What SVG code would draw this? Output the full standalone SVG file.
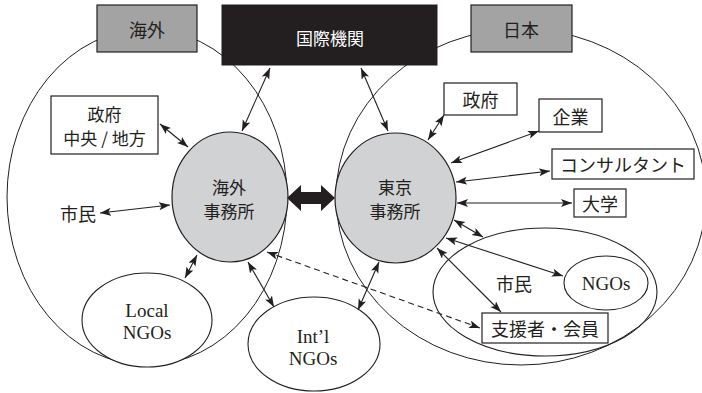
<svg xmlns="http://www.w3.org/2000/svg" width="702" height="393" viewBox="0 0 702 393">
<style>
.big{fill:none;stroke:#231f20;stroke-width:1}
.lbl{fill:#a3a3a3;stroke:#231f20;stroke-width:1.2}
.box{fill:#fff;stroke:#231f20;stroke-width:1.2}
.off{fill:#d1d2d4;stroke:#231f20;stroke-width:1.2}
.ell{fill:#fff;stroke:#231f20;stroke-width:1.1}
.ellnf{fill:none;stroke:#231f20;stroke-width:1.1}
.t{font-family:"Noto Sans CJK JP","Noto Sans",sans-serif;font-size:18px;fill:#231f20;text-anchor:middle;dominant-baseline:central}
.o{font-size:17px}
.s{font-family:"Liberation Serif",serif;font-size:19px;fill:#231f20;text-anchor:middle;dominant-baseline:central}
.c line{stroke:#231f20;stroke-width:1.1;marker-start:url(#ah);marker-end:url(#ah)}
.c line.d{stroke-dasharray:6 4}
</style>
<defs>
<marker id="ah" markerUnits="userSpaceOnUse" markerWidth="12" markerHeight="9" refX="11" refY="4" orient="auto-start-reverse">
<path d="M0,0 L11,4 L0,8 L2.5,4 z" fill="#231f20"/>
</marker>
</defs>

<g id="region-overseas"><ellipse class="big" cx="147" cy="197" rx="140" ry="168"/></g>
<g id="region-japan"><ellipse class="big" cx="521" cy="197" rx="185" ry="168"/></g>

<g id="label-overseas"><rect class="lbl" x="97" y="5" width="100" height="47"/><text class="t" x="147" y="29">海外</text></g>
<g id="intl-org"><rect x="222" y="5" width="215" height="60" fill="#231f20" stroke="#231f20"/><text class="t" x="330" y="37" style="fill:#fff;font-size:17px">国際機関</text></g>
<g id="label-japan"><rect class="lbl" x="471" y="5" width="101" height="47"/><text class="t" x="521" y="29">日本</text></g>

<g id="gov-overseas"><rect class="box" x="51" y="96" width="107" height="58"/><text class="t o" x="104.5" y="113.5">政府</text><text class="t o" x="104.5" y="137.5">中央 / 地方</text></g>
<g id="citizens-overseas"><text class="t" x="78" y="213">市民</text></g>
<g id="local-ngos"><ellipse class="ell" cx="147" cy="320" rx="65" ry="47"/><text class="s" x="147" y="310">Local</text><text class="s" x="147" y="332">NGOs</text></g>
<g id="intl-ngos"><ellipse class="ell" cx="314" cy="344" rx="66" ry="47"/><text class="s" x="313" y="336">Int’l</text><text class="s" x="313" y="358">NGOs</text></g>

<g id="citizens-japan"><ellipse class="ellnf" cx="545" cy="292" rx="112" ry="64"/><text class="t" x="514" y="283">市民</text></g>
<g id="ngos-japan"><ellipse class="ell" cx="606" cy="283" rx="42" ry="27"/><text class="s" x="606" y="283">NGOs</text></g>
<g id="supporters"><rect class="box" x="482" y="313" width="126" height="30"/><text class="t" x="545" y="328">支援者・会員</text></g>
<g id="gov-japan"><rect class="box" x="444" y="83" width="73" height="32"/><text class="t" x="480.5" y="99">政府</text></g>
<g id="company"><rect class="box" x="539" y="99" width="63" height="33"/><text class="t" x="570.5" y="115.5">企業</text></g>
<g id="consultant"><rect class="box" x="552" y="149" width="142" height="30"/><text class="t" x="623" y="164">コンサルタント</text></g>
<g id="university"><rect class="box" x="574" y="189" width="52" height="28"/><text class="t" x="600" y="203">大学</text></g>

<g id="office-overseas"><ellipse class="off" cx="230" cy="197" rx="58" ry="65"/><text class="t o" x="229" y="186">海外</text><text class="t o" x="229" y="210.5">事務所</text></g>
<g id="office-tokyo"><ellipse class="off" cx="395.5" cy="198" rx="60.5" ry="65"/><text class="t o" x="395" y="186">東京</text><text class="t o" x="395" y="210.5">事務所</text></g>

<g id="connectors" class="c">
<polygon points="287,198 301,185 301,192 321,192 321,185 335,198 321,211 321,204 301,204 301,211" fill="#231f20"/>
<line x1="270" y1="68" x2="242" y2="131"/>
<line x1="361" y1="68" x2="388" y2="131"/>
<line x1="160" y1="124" x2="188" y2="147"/>
<line x1="100" y1="213" x2="170" y2="205"/>
<line x1="185" y1="278" x2="197" y2="255"/>
<line x1="248" y1="262" x2="274" y2="307"/>
<line class="d" x1="267" y1="252" x2="480" y2="328"/>
<line x1="428" y1="140" x2="444" y2="115"/>
<line x1="451" y1="163" x2="539" y2="131"/>
<line x1="456" y1="182" x2="550" y2="171"/>
<line x1="457" y1="203" x2="572" y2="203"/>
<line x1="454" y1="220" x2="483" y2="237"/>
<line x1="446" y1="238" x2="563" y2="276"/>
<line x1="437" y1="248" x2="501" y2="312"/>
<line x1="379" y1="262" x2="358" y2="310"/>
</g>
</svg>
